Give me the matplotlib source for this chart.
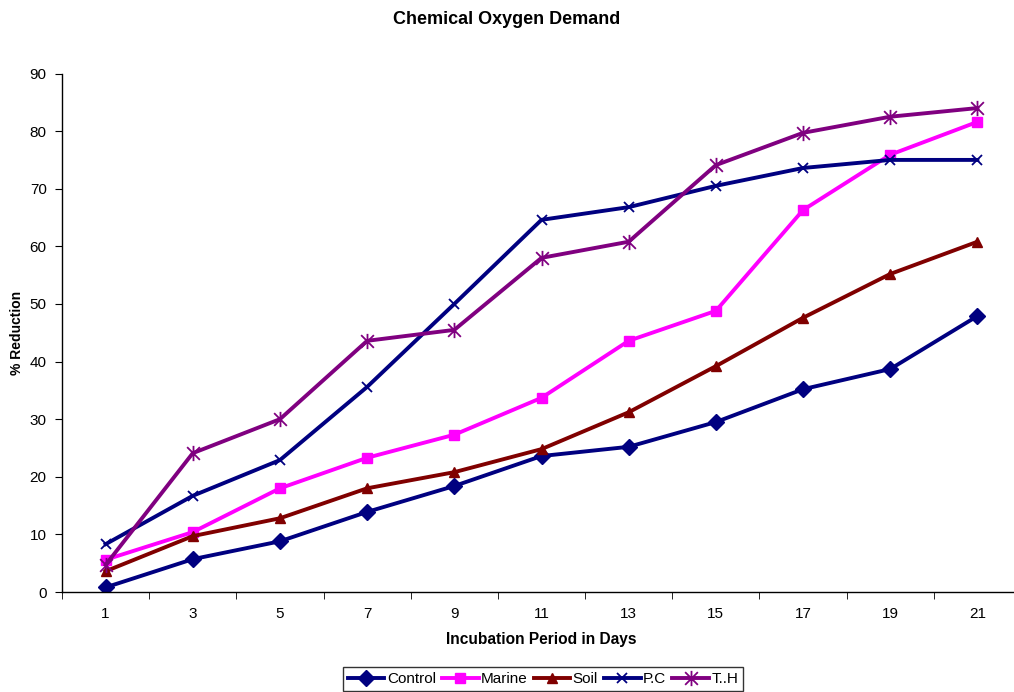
import numpy as np
import matplotlib.pyplot as plt
from matplotlib.path import Path

plt.rcParams['font.family'] = ['Liberation Sans', 'DejaVu Sans']

days = ['1', '3', '5', '7', '9', '11', '13', '15', '17', '19', '21']
control = [0.8, 5.7, 8.8, 13.9, 18.4, 23.6, 25.2, 29.5, 35.2, 38.7, 47.9]
marine = [5.6, 10.4, 18.0, 23.3, 27.3, 33.7, 43.6, 48.8, 66.3, 75.9, 81.6]
soil = [3.6, 9.7, 12.8, 18.0, 20.8, 24.8, 31.2, 39.2, 47.6, 55.2, 60.8]
pc = [8.3, 16.7, 22.9, 35.6, 50.0, 64.6, 66.8, 70.5, 73.6, 75.0, 75.0]
th = [4.7, 24.1, 30.0, 43.6, 45.5, 58.0, 60.8, 74.1, 79.7, 82.5, 84.0]

# x with a vertical stroke, like the spreadsheet "star" marker
star = Path([(-1, -1), (1, 1), (-1, 1), (1, -1), (0, -1.2), (0, 1.2)],
            [Path.MOVETO, Path.LINETO, Path.MOVETO, Path.LINETO, Path.MOVETO, Path.LINETO])

fig = plt.figure(figsize=(10.14, 6.92), dpi=100)
ax = fig.add_axes([62 / 1014, 1 - 592 / 692, (1021 - 62) / 1014, (592 - 73.5) / 692])

x = np.arange(len(days))
lw = 2.8
ax.plot(x, control, color='#000080', lw=lw, marker='D', ms=8, label='Control')
ax.plot(x, marine, color='#FF00FF', lw=lw, marker='s', ms=6.5, label='Marine')
ax.plot(x, soil, color='#800000', lw=lw, marker='^', ms=7, label='Soil')
ax.plot(x, pc, color='#000080', lw=lw, marker='x', ms=7, mew=1.3, label='P.C')
ax.plot(x, th, color='#800080', lw=lw, marker=star, ms=11, mew=1.3,
        mfc='none', label='T..H')

ax.set_xlim(-0.5, len(days) - 0.5)
ax.set_ylim(0, 90)
ax.set_yticks(range(0, 91, 10))
ax.set_xticks(x)
ax.set_xticklabels(days)
ax.set_xticks(np.arange(-0.5, len(days), 1), minor=True)
ax.tick_params(axis='x', which='major', length=0, pad=10.5, labelsize=11)
ax.tick_params(axis='x', which='minor', length=5, direction='out')
ax.tick_params(axis='y', length=5, direction='out', labelsize=11, pad=6)

ax.spines['top'].set_visible(False)
ax.spines['right'].set_visible(False)
for s in ('left', 'bottom'):
    ax.spines[s].set_linewidth(1.0)

ax.set_xlabel('Incubation Period in Days', fontsize=11.2, fontweight='bold', labelpad=8)
ax.set_ylabel('% Reduction', fontsize=10, fontweight='bold', labelpad=4)
fig.text(0.5, 1 - 19 / 692, 'Chemical Oxygen Demand', ha='center', va='center',
         fontsize=13, fontweight='bold')

leg = fig.legend(loc='center', bbox_to_anchor=(543 / 1014, 1 - 679 / 692), ncol=5,
                 fontsize=11, frameon=True, fancybox=False, edgecolor='black',
                 handlelength=2.4, handletextpad=0.15, columnspacing=0.4,
                 borderpad=0.3, borderaxespad=0)
leg.get_frame().set_linewidth(1.0)

fig.savefig('out.png', dpi=100)
